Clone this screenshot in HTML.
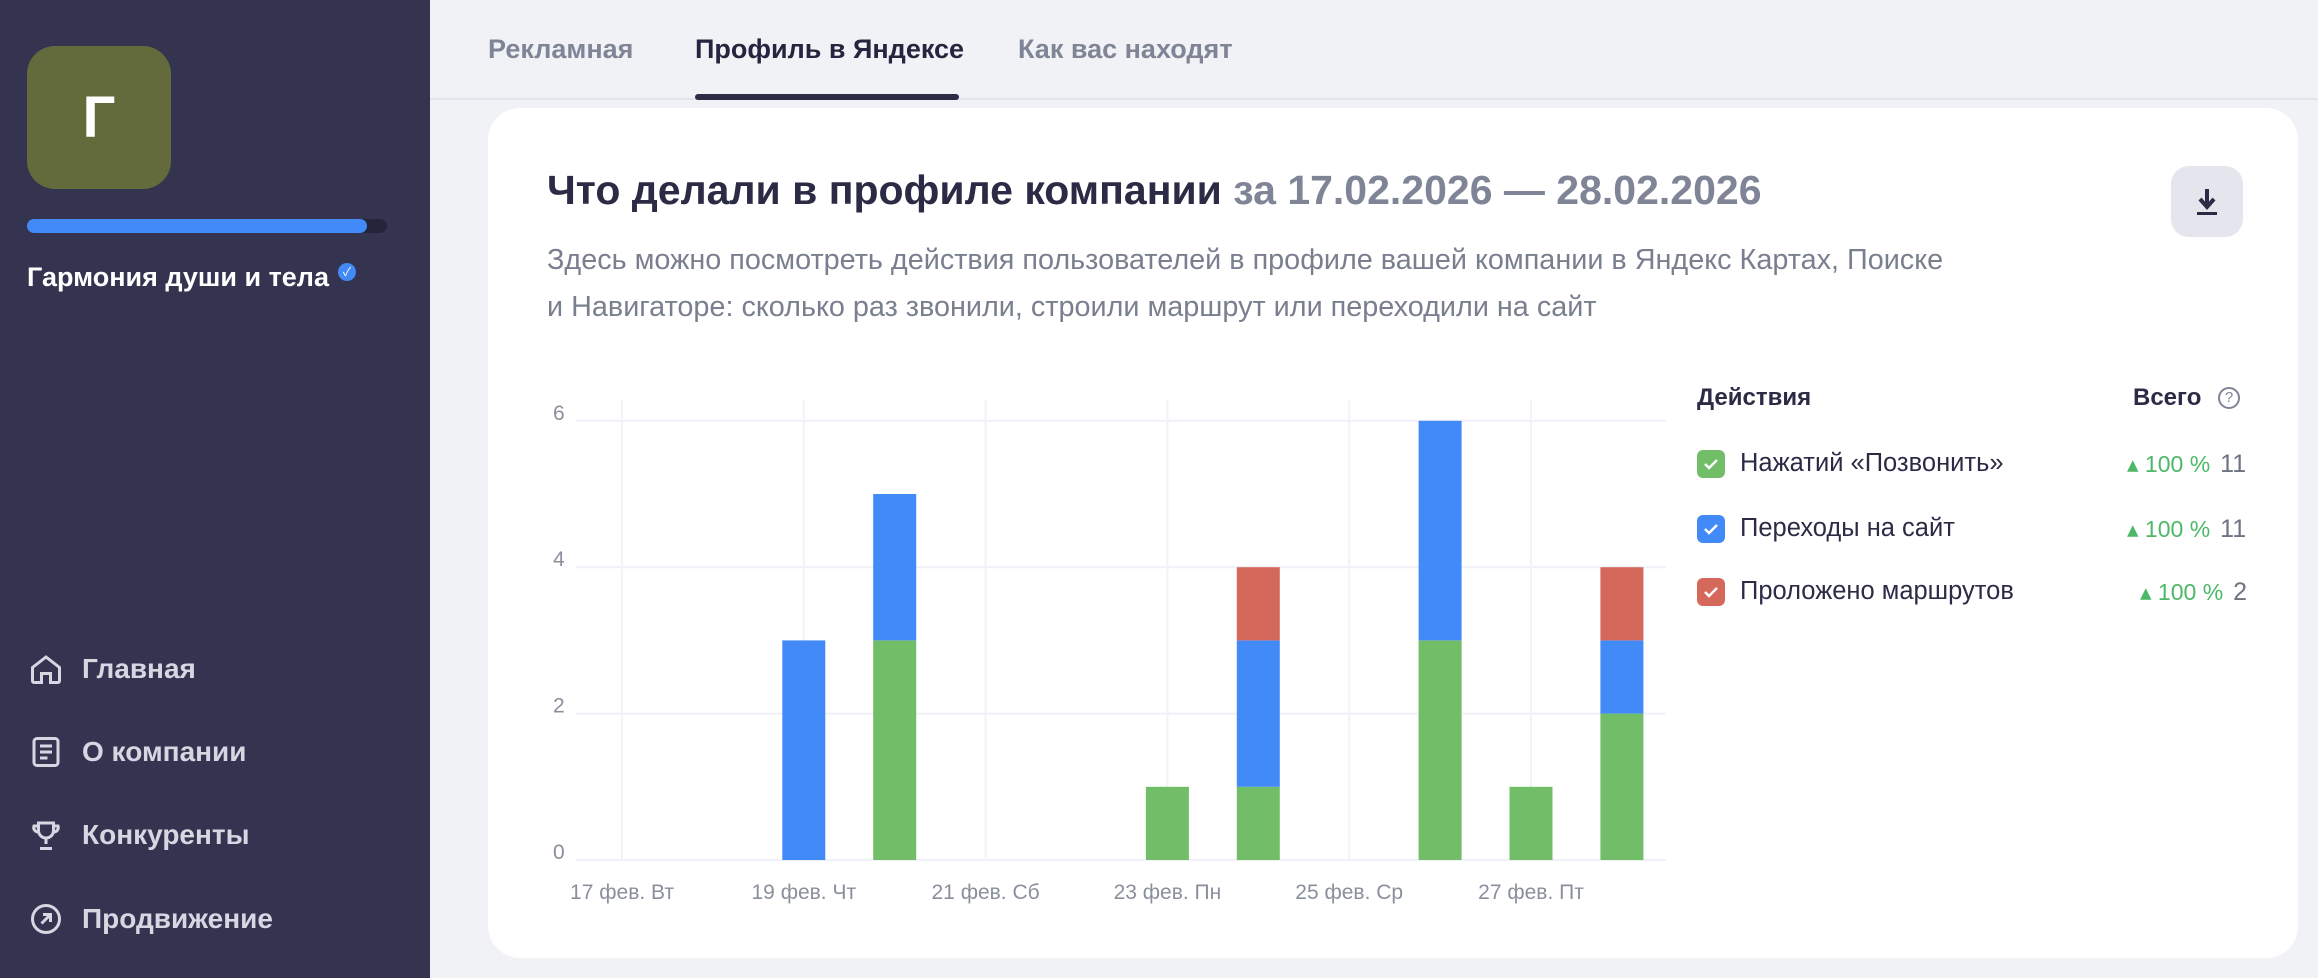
<!DOCTYPE html>
<html><head><meta charset="utf-8">
<style>
*{margin:0;padding:0;box-sizing:border-box}
body{width:2318px;height:978px;overflow:hidden;background:#f1f2f6;font-family:"Liberation Sans","Noto Sans CJK SC",sans-serif;position:relative}
.abs{position:absolute}
#sidebar{left:0;top:0;width:430px;height:978px;background:#343451}
.nav{left:28px;color:#d6d7e2;font-size:28px;font-weight:bold;display:flex;align-items:center;gap:18px}
.nav svg{width:36px;height:36px}
.tab{top:34px;font-size:27px;font-weight:bold;color:#7f8596}
#card{left:488px;top:108px;width:1810px;height:850px;background:#fff;border-radius:32px}
.leg{font-size:25.5px;color:#2b2b45}
.cb{width:28px;height:28px;border-radius:6px;display:flex;align-items:center;justify-content:center}
.pct{color:#4cb868;font-size:23px}
.num{color:#6e7382;font-size:25px}
</style></head><body>
<div id="sidebar" class="abs">
  <div class="abs" style="left:27px;top:46px;width:144px;height:143px;background:#636b3c;border-radius:28px;color:#fff;font-size:58px;font-weight:bold;display:flex;align-items:center;justify-content:center">Г</div>
  <div class="abs" style="left:27px;top:219px;width:360px;height:14px;background:#24243a;border-radius:7px">
    <div style="width:340px;height:14px;background:#428af8;border-radius:7px"></div>
  </div>
  <div class="abs" style="left:27px;top:262px;color:#fff;font-size:27px;font-weight:bold">Гармония души и тела</div>
  <div class="abs" style="left:338px;top:263px;width:18px;height:18px;border-radius:50%;background:#428af8;color:#fff;font-size:12px;text-align:center;line-height:18px">✓</div>
  <div class="abs nav" style="top:651px"><svg viewBox="0 0 24 24" fill="none" stroke="#d6d7e2" stroke-width="2"><path d="M3 11l9-7 9 7v9a1 1 0 0 1-1 1h-5v-6h-6v6H4a1 1 0 0 1-1-1z"/></svg>Главная</div>
  <div class="abs nav" style="top:734px"><svg viewBox="0 0 24 24" fill="none" stroke="#d6d7e2" stroke-width="2"><rect x="4" y="3" width="16" height="18" rx="2"/><path d="M8 8h8M8 12h8M8 16h5"/></svg>О компании</div>
  <div class="abs nav" style="top:817px"><svg viewBox="0 0 24 24" fill="none" stroke="#d6d7e2" stroke-width="2"><path d="M7 4h10v5a5 5 0 0 1-10 0z M7 6H4a3 3 0 0 0 3 4 M17 6h3a3 3 0 0 1-3 4 M12 14v4 M8 21h8"/></svg>Конкуренты</div>
  <div class="abs nav" style="top:901px"><svg viewBox="0 0 24 24" fill="none" stroke="#d6d7e2" stroke-width="2"><circle cx="12" cy="12" r="9"/><path d="M9 15l6-6M10 9h5v5"/></svg>Продвижение</div>
</div>
<div class="abs" style="left:430px;top:98px;width:1888px;height:2px;background:#e3e5ec"></div>
<div class="abs tab" style="left:488px">Рекламная</div>
<div class="abs tab" style="left:695px;color:#25253f">Профиль в Яндексе</div>
<div class="abs" style="left:695px;top:94px;width:264px;height:6px;background:#2d2d48;border-radius:3px"></div>
<div class="abs tab" style="left:1018px">Как вас находят</div>

<div id="card" class="abs"></div>
<div class="abs" style="left:547px;top:167px;font-size:41px;font-weight:bold;color:#2b2b45;white-space:nowrap">Что делали в профиле компании <span style="color:#7f8596">за 17.02.2026 — 28.02.2026</span></div>
<div class="abs" style="left:547px;top:237px;font-size:28.8px;line-height:47px;color:#7a7f8f;width:1500px;white-space:nowrap">Здесь можно посмотреть действия пользователей в профиле вашей компании в Яндекс Картах, Поиске<br>и Навигаторе: сколько раз звонили, строили маршрут или переходили на сайт</div>
<div class="abs" style="left:2171px;top:166px;width:72px;height:71px;background:#e4e5ed;border-radius:18px;display:flex;align-items:center;justify-content:center">
  <svg width="26" height="30" viewBox="0 0 26 30"><path d="M13 2v16M6 12l7 8 7-8" stroke="#2b2b45" stroke-width="4" fill="none"/><rect x="3" y="25" width="20" height="3" fill="#2b2b45"/></svg>
</div>

<svg class="abs" id="chart" style="left:0;top:0" width="2318" height="978"></svg>

<div class="abs leg" style="left:1697px;top:384px;font-weight:bold;font-size:24px">Действия</div>
<div class="abs leg" style="left:2133px;top:384px;font-weight:bold;font-size:24px">Всего</div>
<div class="abs" style="left:2218px;top:387px;width:22px;height:22px;border:2px solid #7f8596;border-radius:50%;font-size:15px;color:#7f8596;text-align:center;line-height:18px">?</div>

<div class="abs leg" style="left:1697px;top:449px;display:flex;align-items:center;gap:15px"><div class="cb" style="background:#72bd68"><svg width="16" height="12"><path d="M2 6l4 4 8-8" stroke="#fff" stroke-width="2.5" fill="none"/></svg></div>Нажатий «Позвонить»</div>
<div class="abs" style="left:2127px;top:450px;display:flex;align-items:baseline;gap:10px"><span class="pct">▴ 100 %</span><span class="num">11</span></div>
<div class="abs leg" style="left:1697px;top:514px;display:flex;align-items:center;gap:15px"><div class="cb" style="background:#428af8"><svg width="16" height="12"><path d="M2 6l4 4 8-8" stroke="#fff" stroke-width="2.5" fill="none"/></svg></div>Переходы на сайт</div>
<div class="abs" style="left:2127px;top:515px;display:flex;align-items:baseline;gap:10px"><span class="pct">▴ 100 %</span><span class="num">11</span></div>
<div class="abs leg" style="left:1697px;top:577px;display:flex;align-items:center;gap:15px"><div class="cb" style="background:#d4685b"><svg width="16" height="12"><path d="M2 6l4 4 8-8" stroke="#fff" stroke-width="2.5" fill="none"/></svg></div>Проложено маршрутов</div>
<div class="abs" style="left:2140px;top:578px;display:flex;align-items:baseline;gap:10px"><span class="pct">▴ 100 %</span><span class="num">2</span></div>

<script>
const days = ["17","18","19","20","21","22","23","24","25","26","27","28"];
const tickLabels = ["17 фев. Вт","19 фев. Чт","21 фев. Сб","23 фев. Пн","25 фев. Ср","27 фев. Пт"];
const calls  = [0,0,0,3,0,0,1,1,0,3,1,2];
const site   = [0,0,3,2,0,0,0,2,0,3,0,1];
const routes = [0,0,0,0,0,0,0,1,0,0,0,1];
const yTicks = [0,2,4,6];
const NS="http://www.w3.org/2000/svg";
const svg=document.getElementById('chart');
const x0=622, dx=90.9, yBase=860, yUnit=73.2, bw=43;
const X=i=>x0+i*dx, Y=v=>yBase-v*yUnit;
function mk(t,a){const e=document.createElementNS(NS,t);for(const k in a)e.setAttribute(k,a[k]);svg.appendChild(e);return e;}
yTicks.forEach(v=>{
  const l=mk('line',{x1:576,x2:1666,y1:Y(v),y2:Y(v),stroke:'#eef1f7','stroke-width':2});
  
  
  const t=mk('text',{x:553,y:Y(v)-1,'font-size':21,fill:'#8a8f9c','font-family':'Liberation Sans'});
  t.textContent=v;
  
  
});
tickLabels.forEach((s,k)=>{
  const i=k*2;
  const l=mk('line',{x1:X(i),x2:X(i),y1:400,y2:860,stroke:'#f1f3f8','stroke-width':2});
  
  
  const t=mk('text',{x:X(i),y:899,'font-size':21,fill:'#8a8f9c','text-anchor':'middle','font-family':'Liberation Sans'});
  t.textContent=s;
  
  
});
const series=[[calls,'#72bd68','bar-calls'],[site,'#428af8','bar-site'],[routes,'#d4685b','bar-routes']];
days.forEach((d,i)=>{
  let acc=0;
  series.forEach(([arr,col,nm])=>{
    const v=arr[i]; if(!v) return;
    const r=mk('rect',{x:X(i)-bw/2,y:Y(acc+v),width:bw,height:v*yUnit,fill:col});
    
    
    acc+=v;
  });
});
</script>
</body></html>
